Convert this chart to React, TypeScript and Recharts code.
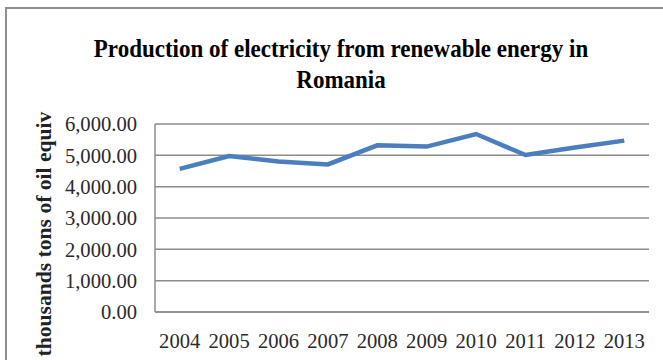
import React from "react";
import { LineChart, Line, XAxis, YAxis, CartesianGrid } from "recharts";

const years = ["2004", "2005", "2006", "2007", "2008", "2009", "2010", "2011", "2012", "2013"];
const production = [4570, 4980, 4800, 4710, 5320, 5280, 5680, 5010, 5250, 5470];
const yTicks = [0, 1000, 2000, 3000, 4000, 5000, 6000];

const data = years.map((y, i) => ({ year: y, value: production[i] }));

const fmt = (v: number) =>
  v.toLocaleString("en-US", { minimumFractionDigits: 2, maximumFractionDigits: 2 });

const serif = "'Liberation Serif', 'Times New Roman', serif";

export default function App() {
  return (
    <div style={{ position: "absolute", left: 0, top: 0, width: 663, height: 360, background: "#fff", overflow: "hidden" }}>
      <div
        style={{
          position: "absolute",
          left: 5,
          top: 7,
          width: 700,
          height: 400,
          borderTop: "2px solid #8f8f8f",
          borderLeft: "2px solid #8f8f8f",
        }}
      />
      <div
        style={{
          position: "absolute",
          left: 41,
          top: 37,
          width: 600,
          textAlign: "center",
          fontFamily: serif,
          fontWeight: "bold",
          fontSize: 23,
          lineHeight: "27px",
          color: "#000",
          transform: "scaleY(1.12)",
        }}
      >
        Production of electricity from renewable energy in
        <br />
        Romania
      </div>
      <div
        style={{
          position: "absolute",
          left: 44,
          top: 234,
          transform: "translate(-50%, -50%) rotate(-90deg)",
          whiteSpace: "nowrap",
          fontFamily: serif,
          fontWeight: "bold",
          fontSize: 21.6,
          color: "#222",
        }}
      >
        thousands tons of oil equiv
      </div>
      <div style={{ position: "absolute", left: 0, top: 0 }}>
        <LineChart width={663} height={360} data={data} margin={{ top: 124, right: 14, bottom: 0, left: 0 }}>
          <CartesianGrid vertical={false} stroke="#8c8c8c" strokeWidth={1.5} />
          <XAxis
            dataKey="year"
            height={48}
            padding={{ left: 24.7, right: 24.7 }}
            axisLine={{ stroke: "#8c8c8c", strokeWidth: 1.5 }}
            tickLine={false}
            tickSize={0}
            tickMargin={21}
            interval={0}
            tick={{ fill: "#2a2a2a", fontFamily: serif, fontSize: 20.6 }}
          />
          <YAxis
            width={155}
            domain={[0, 6000]}
            ticks={yTicks}
            interval={0}
            tickFormatter={fmt}
            axisLine={{ stroke: "#8c8c8c", strokeWidth: 1.5 }}
            tickLine={false}
            tickSize={0}
            tickMargin={18}
            tick={{ fill: "#2a2a2a", fontFamily: serif, fontSize: 20.6 }}
          />
          <Line
            type="linear"
            dataKey="value"
            stroke="#4a7ebe"
            strokeWidth={4.5}
            dot={false}
            isAnimationActive={false}
          />
        </LineChart>
      </div>
    </div>
  );
}
